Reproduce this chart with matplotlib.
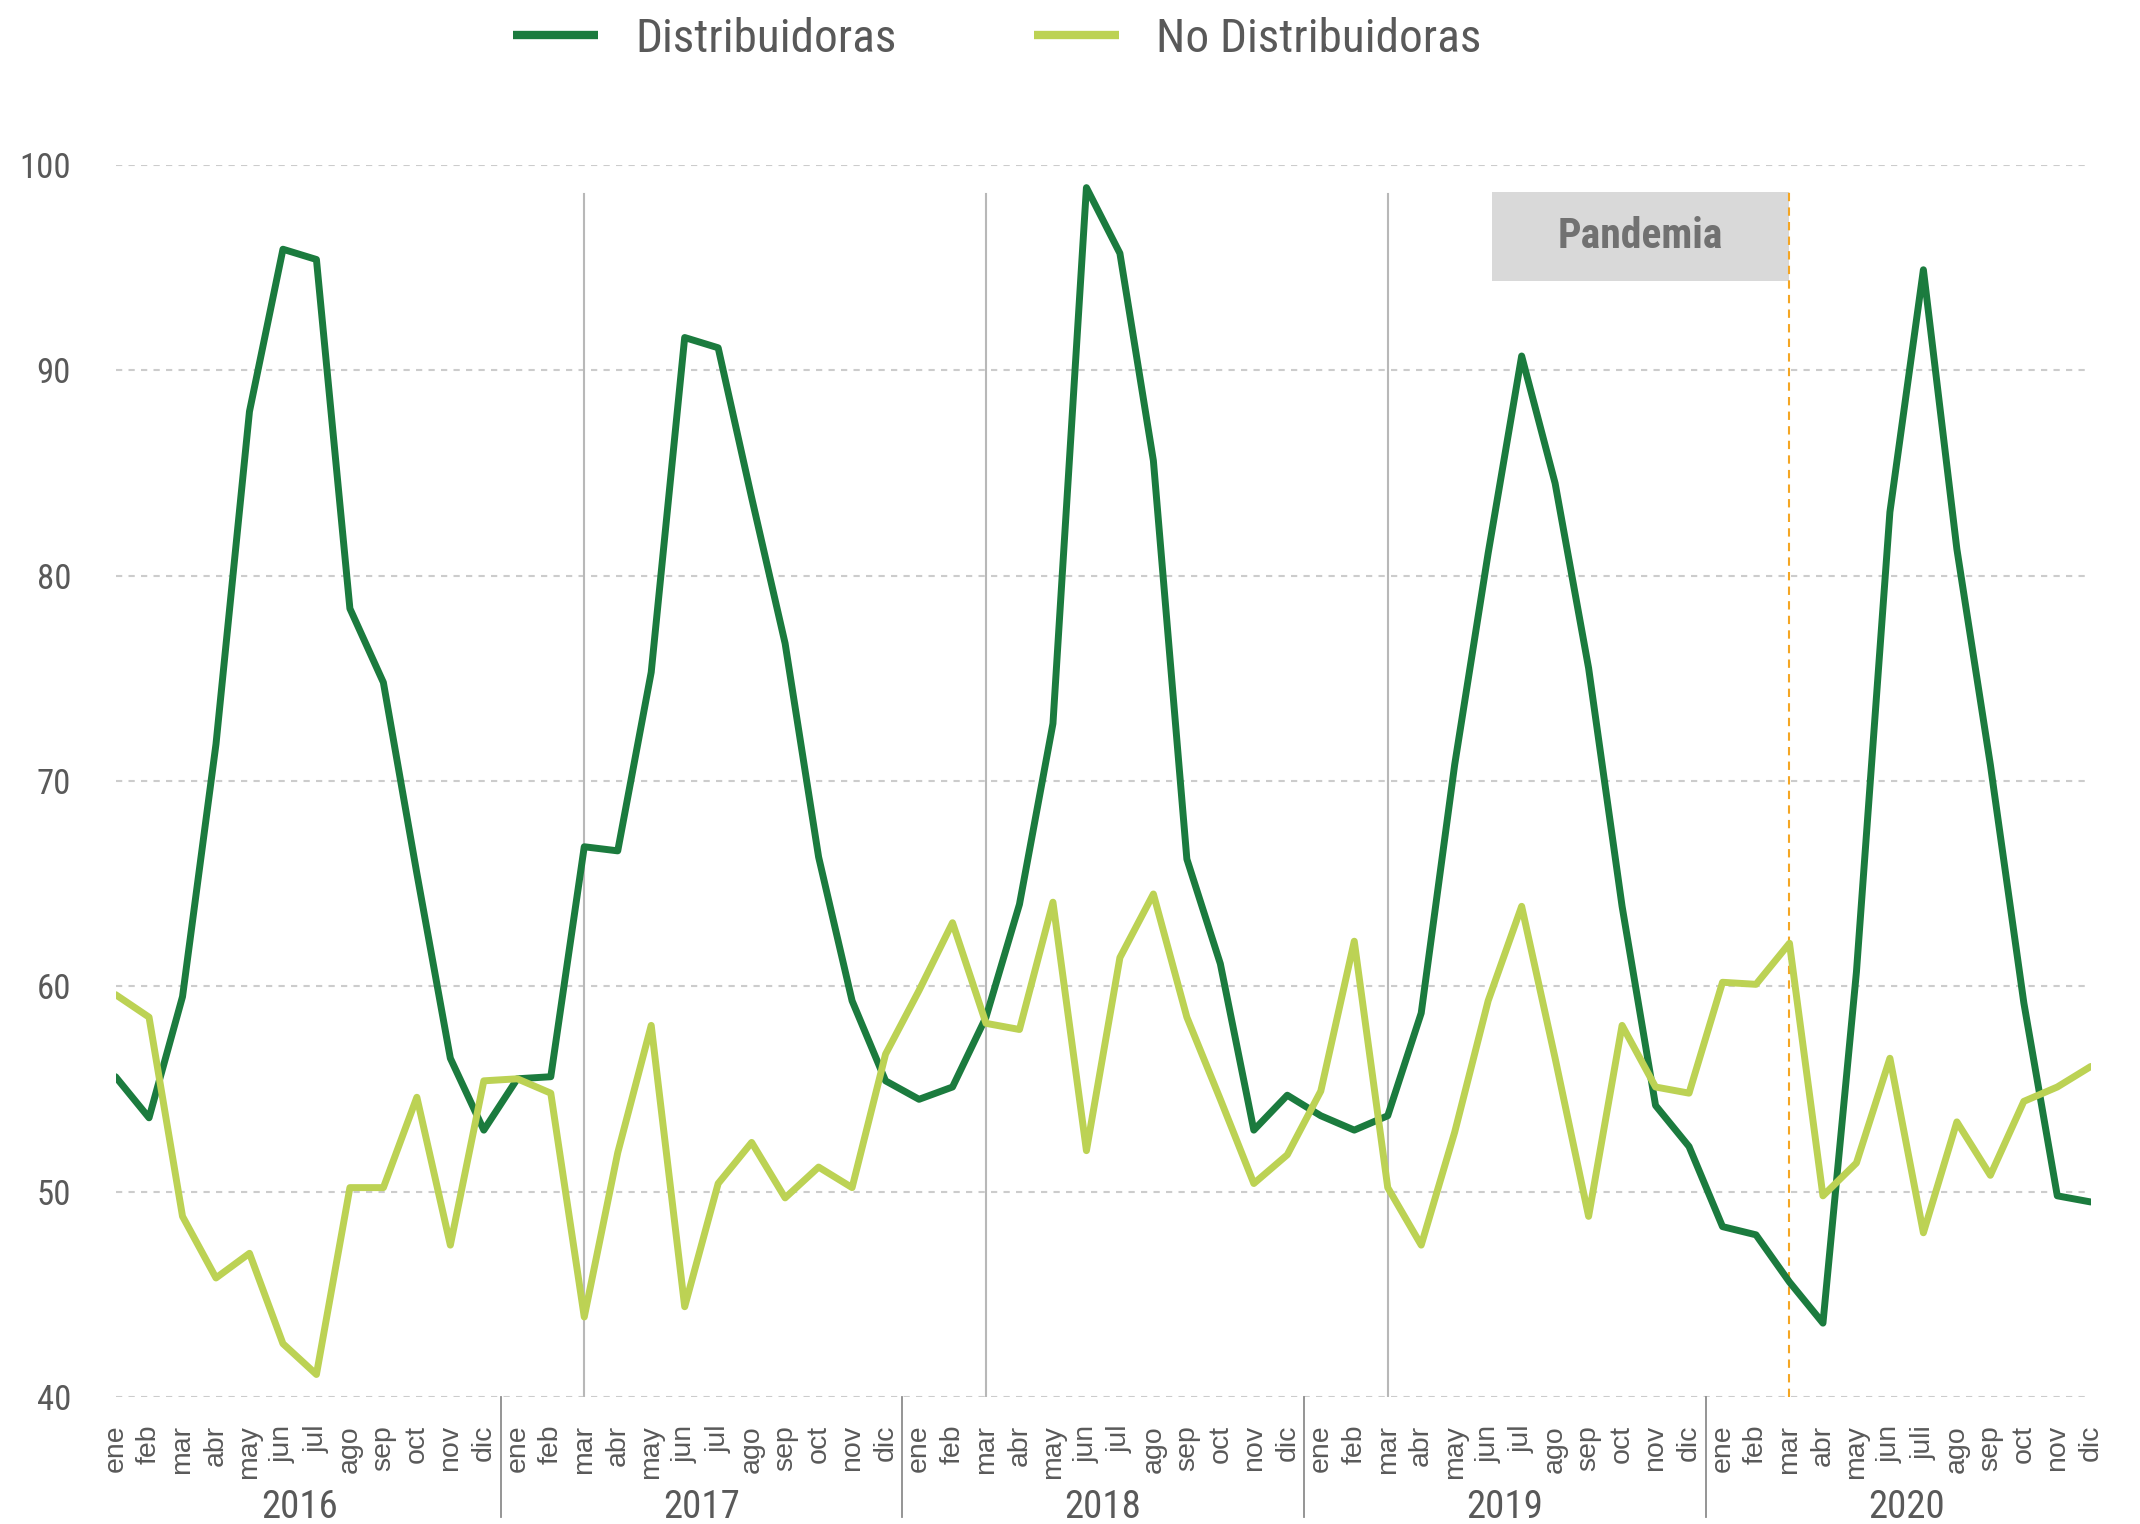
import numpy as np
import matplotlib
matplotlib.use("Agg")
import matplotlib.pyplot as plt
from matplotlib.patches import Rectangle
import matplotlib.transforms as mtransforms

years = ["2016", "2017", "2018", "2019", "2020"]
months = ["ene", "feb", "mar", "abr", "may", "jun", "jul", "ago", "sep", "oct", "nov", "dic"]
months_2020 = ["ene", "feb", "mar", "abr", "may", "jun", "juli", "ago", "sep", "oct", "nov", "dic"]

distribuidoras = [
    55.6, 53.6, 59.5, 71.8, 88.0, 95.9, 95.4, 78.4, 74.8, 65.5, 56.5, 53.0,
    55.5, 55.6, 66.8, 66.6, 75.3, 91.6, 91.1, 83.8, 76.7, 66.3, 59.3, 55.4,
    54.5, 55.1, 58.5, 64.0, 72.8, 98.9, 95.7, 85.6, 66.2, 61.1, 53.0, 54.7,
    53.7, 53.0, 53.7, 58.7, 70.8, 81.1, 90.7, 84.5, 75.5, 63.9, 54.2, 52.2,
    48.3, 47.9, 45.6, 43.6, 60.7, 83.1, 94.9, 81.3, 70.8, 59.2, 49.8, 49.5,
]
no_distribuidoras = [
    59.6, 58.5, 48.8, 45.8, 47.0, 42.6, 41.1, 50.2, 50.2, 54.6, 47.4, 55.4,
    55.5, 54.8, 43.9, 51.9, 58.1, 44.4, 50.4, 52.4, 49.7, 51.2, 50.2, 56.7,
    59.8, 63.1, 58.2, 57.9, 64.1, 52.0, 61.4, 64.5, 58.5, 54.5, 50.4, 51.8,
    54.9, 62.2, 50.2, 47.4, 52.9, 59.3, 63.9, 56.5, 48.8, 58.1, 55.1, 54.8,
    60.2, 60.1, 62.1, 49.8, 51.4, 56.5, 48.0, 53.4, 50.8, 54.4, 55.1, 56.1,
]

# vertical reference lines (month index) and pandemic marker
ref_lines = [14, 26, 38]
pandemia_idx = 50
pandemia_box = (41.1, 94.35, 8.9, 4.35)  # x, y, width, height in data units

DARK = "#1b7b3e"
LIGHT = "#bcd254"
TXT = "#595959"
COND = ["Roboto Condensed", "Liberation Sans Narrow", "Roboto", "DejaVu Sans"]

x = np.arange(len(distribuidoras))
labels = months * 4 + months_2020

fig = plt.figure(figsize=(21.4, 15.24), dpi=100)
ax = fig.add_axes([0.054, 0.0833, 0.923, 0.8084])

for y in range(40, 101, 10):
    ax.axhline(y, color="#cccccc", lw=1.5, ls=(0, (3, 3)), zorder=0)

for r in ref_lines:
    ax.plot([r, r], [40, 98.6], color="#b8b8b8", lw=1.5, zorder=1)
ax.plot([pandemia_idx, pandemia_idx], [40, 98.7], color="#f5a623", lw=1.5,
        ls=(0, (4, 3)), zorder=3)

ax.add_patch(Rectangle(pandemia_box[:2], pandemia_box[2], pandemia_box[3],
                       facecolor="#d9d9d9", edgecolor="none", zorder=2))
ax.text(pandemia_box[0] + pandemia_box[2] / 2, pandemia_box[1] + pandemia_box[3] / 2,
        "Pandemia", ha="center", va="center", fontsize=30, fontweight="bold",
        color="#717171", family=COND, zorder=4)

l1, = ax.plot(x, distribuidoras, color=DARK, lw=5, zorder=4,
              solid_joinstyle="round", solid_capstyle="round")
l2, = ax.plot(x, no_distribuidoras, color=LIGHT, lw=5, zorder=5,
              solid_joinstyle="round", solid_capstyle="round")

ax.set_xlim(0, len(x) - 1)
ax.set_ylim(40, 100)
ax.set_yticks(range(40, 101, 10))
ax.set_yticklabels([str(v) for v in range(40, 101, 10)], family=COND, fontsize=25, color=TXT)
ax.set_xticks(x)
ax.set_xticklabels(labels, rotation=90, fontsize=20.5, color=TXT, family="Liberation Sans",
                   va="top")
ax.tick_params(axis="both", length=0)
ax.tick_params(axis="x", pad=20)
ax.tick_params(axis="y", pad=32)
for s in ax.spines.values():
    s.set_visible(False)

trans = mtransforms.blended_transform_factory(ax.transData, ax.transAxes)
for k in range(1, len(years)):
    sep = 12 * k - 0.5
    ax.plot([sep, sep], [0, -0.0974], color="#8c8c8c", lw=1.3, transform=trans, clip_on=False)
for k, yr in enumerate(years):
    ax.text(12 * k + 5.5, -0.09, yr, transform=trans, ha="center", va="center",
            fontsize=28, color=TXT, family=COND)

leg = fig.legend([l1, l2], ["Distribuidoras", "No Distribuidoras"], loc="upper center",
                 bbox_to_anchor=(0.466, 1.017), ncol=2, frameon=False, handlelength=1.8,
                 columnspacing=2.9, handletextpad=0.8,
                 prop={"family": COND, "size": 34}, labelcolor=TXT)
for h in leg.legend_handles:
    h.set_linewidth(6)
    h.set_solid_capstyle("butt")

fig.savefig("out.png", dpi=100)
